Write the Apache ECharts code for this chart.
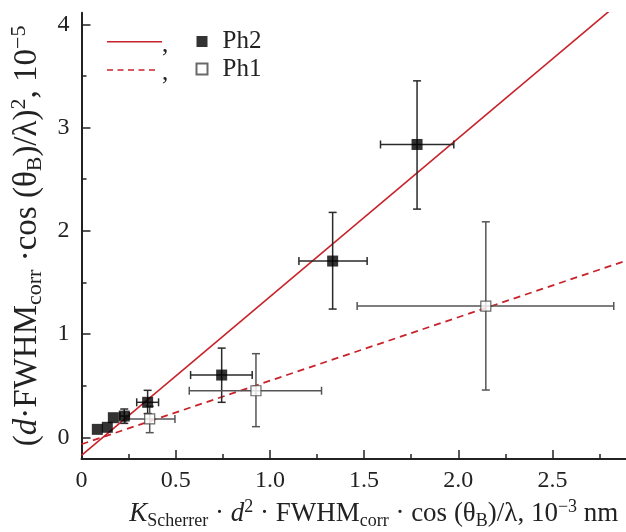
<!DOCTYPE html>
<html>
<head>
<meta charset="utf-8">
<script src="https://cdn.jsdelivr.net/npm/echarts@6/dist/echarts.min.js"></script>
<style>html,body{margin:0;padding:0;background:#fff}#c{width:626px;height:532px}</style>
</head>
<body>
<div id="c"></div>
<script>
// ---- data ----
const ph2X    = [0.084, 0.137, 0.169, 0.227, 0.351, 0.744, 1.333, 1.781];
const ph2Y    = [0.077, 0.097, 0.190, 0.206, 0.339, 0.603, 1.707, 2.836];
const ph2XLo  = [null, null, null, 0.204, 0.293, 0.579, 1.154, 1.587];
const ph2XHi  = [null, null, null, 0.254, 0.409, 0.906, 1.516, 1.976];
const ph2YLo  = [null, null, null, 0.135, 0.230, 0.339, 1.242, 2.210];
const ph2YHi  = [null, null, null, 0.274, 0.455, 0.864, 2.178, 3.452];

const ph1X    = [0.362, 0.926, 2.146];
const ph1Y    = [0.178, 0.451, 1.271];
const ph1XLo  = [0.235, 0.572, 1.463];
const ph1XHi  = [0.496, 1.274, 2.825];
const ph1YLo  = [0.045, 0.103, 0.458];
const ph1YHi  = [0.300, 0.810, 2.087];

// linear fits: [slope, intercept]
const ph2Fit = [1.536, -0.175];
const ph1Fit = [0.615, -0.067];

const xMajorTicks = [0.5, 1.0, 1.5, 2.0, 2.5];
const xMinorTicks = [0.25, 0.75, 1.25, 1.75, 2.25, 2.75];
const xTickLabels = [0, 0.5, 1.0, 1.5, 2.0, 2.5];
const yMajorTicks = [0, 1, 2, 3, 4];
const yMinorTicks = [0.5, 1.5, 2.5, 3.5];
const yTickLabels = [0, 1, 2, 3, 4];

const seriesNames = ['Ph2', 'Ph1'];
// ---------------

const X_MIN = 0, X_MAX = 2.89, Y_MIN = -0.21, Y_MAX = 4.112;
const FONT = 'Liberation Serif';
const INK = '#222';
const RED = '#c8232b';

function pts(xs, ys) { return xs.map((x, i) => [x, ys[i]]); }
function errData(xs, ys, xl, xh, yl, yh) {
  const out = [];
  xs.forEach((x, i) => {
    if (xl[i] == null) return;
    out.push([x, ys[i], xl[i], xh[i], yl[i], yh[i]]);
  });
  return out;
}
function fitLine(f) { return [[X_MIN, f[1]], [X_MAX, f[1] + f[0] * X_MAX]]; }

function errRender(color) {
  return function (params, api) {
    const c = api.coord([api.value(0), api.value(1)]);
    const xl = api.coord([api.value(2), api.value(1)]);
    const xh = api.coord([api.value(3), api.value(1)]);
    const yl = api.coord([api.value(0), api.value(4)]);
    const yh = api.coord([api.value(0), api.value(5)]);
    const cap = 4;
    const st = { stroke: color, lineWidth: 1.5 };
    const L = (x1, y1, x2, y2) => ({ type: 'line', shape: { x1, y1, x2, y2 }, style: st });
    return {
      type: 'group',
      children: [
        L(xl[0], c[1], xh[0], c[1]),
        L(xl[0], c[1] - cap, xl[0], c[1] + cap),
        L(xh[0], c[1] - cap, xh[0], c[1] + cap),
        L(c[0], yl[1], c[0], yh[1]),
        L(c[0] - cap, yl[1], c[0] + cap, yl[1]),
        L(c[0] - cap, yh[1], c[0] + cap, yh[1])
      ]
    };
  };
}

function makeRich(fs, lh) {
  const sfs = Math.round(fs * 0.67);
  return {
    n: { fontFamily: FONT, fontSize: fs, color: INK, lineHeight: lh, verticalAlign: 'middle' },
    i: { fontFamily: FONT, fontSize: fs, color: INK, fontStyle: 'italic', lineHeight: lh, verticalAlign: 'middle' },
    sub: { fontFamily: FONT, fontSize: sfs, color: INK, lineHeight: sfs - 2, verticalAlign: 'bottom' },
    sup: { fontFamily: FONT, fontSize: sfs, color: INK, lineHeight: sfs - 2, verticalAlign: 'top' }
  };
}

const chart = echarts.init(document.getElementById('c'), null, { renderer: 'canvas' });

const axisLineStyle = { color: INK, width: 2 };

chart.setOption({
  animation: false,
  backgroundColor: '#fff',
  grid: { left: 81.5, right: 0, top: 12.7, bottom: 73, containLabel: false, outerBoundsMode: 'none' },
  legend: {
    data: seriesNames,
    orient: 'vertical',
    left: 195.5,
    top: 29,
    padding: 0,
    itemGap: 2.6,
    itemWidth: 11,
    itemHeight: 11,
    icon: 'rect',
    textStyle: { fontFamily: FONT, fontSize: 25, color: INK, lineHeight: 22, padding: [0, 0, 0, 10] }
  },
  xAxis: [{
    type: 'value', min: X_MIN, max: X_MAX,
    name: '{i|K}{sub|Scherrer}{n| · }{i|d}{sup|2}{n| · FWHM}{sub|corr}{n| · cos (θ}{sub|B}{n|)/λ, 10}{sup|−3}{n| nm}',
    nameLocation: 'middle', nameGap: 38,
    nameTextStyle: { rich: makeRich(27, 32), padding: [0, 0, 0, 40] },
    axisLine: { onZero: false, lineStyle: axisLineStyle },
    axisTick: { inside: true, length: 9, customValues: xMajorTicks, lineStyle: { color: INK, width: 1.5 } },
    axisLabel: {
      customValues: xTickLabels, margin: 10,
      fontFamily: FONT, fontSize: 24, color: INK,
      formatter: v => (v === 0 ? '0' : v.toFixed(1))
    },
    splitLine: { show: false }
  }, {
    type: 'value', min: X_MIN, max: X_MAX, position: 'bottom',
    axisLine: { show: false, onZero: false },
    axisTick: { inside: true, length: 5, customValues: xMinorTicks, lineStyle: { color: INK, width: 1.5 } },
    axisLabel: { show: false },
    splitLine: { show: false }
  }],
  yAxis: [{
    type: 'value', min: Y_MIN, max: Y_MAX,
    name: '{n|(}{i|d}{n|·FWHM}{sub|corr}{n| ·cos (θ}{sub|B}{n|)/λ)}{sup|2}{n|, 10}{sup|−5}',
    nameLocation: 'middle', nameGap: 27, nameRotate: 90,
    nameTextStyle: { rich: makeRich(33, 38) },
    axisLine: { onZero: false, lineStyle: axisLineStyle },
    axisTick: { inside: true, length: 9, customValues: yMajorTicks, lineStyle: { color: INK, width: 1.5 } },
    axisLabel: {
      customValues: yTickLabels, margin: 12,
      fontFamily: FONT, fontSize: 24, color: INK,
      formatter: v => String(Math.round(v))
    },
    splitLine: { show: false }
  }, {
    type: 'value', min: Y_MIN, max: Y_MAX, position: 'left',
    axisLine: { show: false, onZero: false },
    axisTick: { inside: true, length: 5, customValues: yMinorTicks, lineStyle: { color: INK, width: 1.5 } },
    axisLabel: { show: false },
    splitLine: { show: false }
  }],
  graphic: [
    { type: 'line', shape: { x1: 107, y1: 41.7, x2: 162, y2: 41.7 }, style: { stroke: RED, lineWidth: 1.6 } },
    { type: 'line', shape: { x1: 107, y1: 70, x2: 157, y2: 70 }, style: { stroke: RED, lineWidth: 1.6, lineDash: [6, 4.5] } },
    { type: 'text', left: 162, top: 33, style: { text: ',', font: '25px "Liberation Serif"', fill: INK } },
    { type: 'text', left: 162, top: 61, style: { text: ',', font: '25px "Liberation Serif"', fill: INK } }
  ],
  series: [
    {
      name: 'fit-Ph2', type: 'line', data: fitLine(ph2Fit), showSymbol: false, symbol: 'none',
      lineStyle: { color: RED, width: 1.6 }, clip: true, z: 2, silent: true
    },
    {
      name: 'fit-Ph1', type: 'line', data: fitLine(ph1Fit), showSymbol: false, symbol: 'none',
      lineStyle: { color: RED, width: 1.8, type: [7, 5] }, clip: true, z: 2, silent: true
    },
    {
      name: 'err-Ph2', type: 'custom', renderItem: errRender('#2a2a2a'),
      data: errData(ph2X, ph2Y, ph2XLo, ph2XHi, ph2YLo, ph2YHi), z: 3, silent: true
    },
    {
      name: 'err-Ph1', type: 'custom', renderItem: errRender('#555'),
      data: errData(ph1X, ph1Y, ph1XLo, ph1XHi, ph1YLo, ph1YHi), z: 3, silent: true
    },
    {
      name: 'Ph2', type: 'scatter', data: pts(ph2X, ph2Y), symbol: 'rect', symbolSize: 11,
      itemStyle: { color: '#000' }, z: 4
    },
    {
      name: 'Ph1', type: 'scatter', data: pts(ph1X, ph1Y), symbol: 'rect', symbolSize: 10,
      itemStyle: { color: '#fff', borderColor: '#444', borderWidth: 1.2 }, z: 4
    }
  ]
});
</script>
</body>
</html>
